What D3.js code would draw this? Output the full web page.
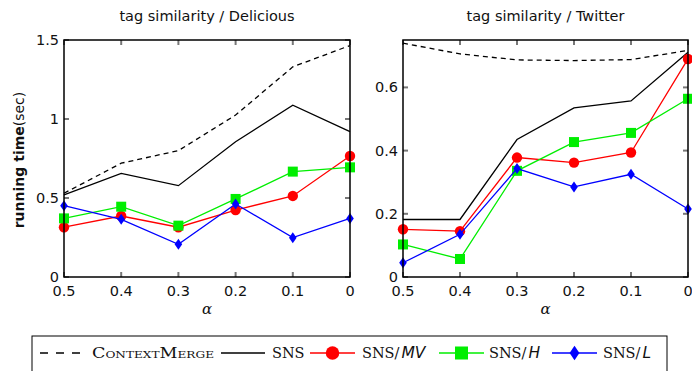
<!DOCTYPE html>
<html lang="en">
  <head>
    <meta charset="UTF-8" />
    <script src="https://d3js.org/d3.v7.min.js"></script>
    <title>running time vs alpha</title>
    <style>
      body { margin: 0; background: #fff; }
      text { font-family: "DejaVu Sans", sans-serif; fill: #111; }
      .serif { font-family: "DejaVu Serif", "Liberation Serif", serif; }
    </style>
  </head>
  <body>
    <svg id="chart" width="692" height="371"></svg>

    <script>
      // x values (alpha), shown from 0.5 down to 0
      const alphas = [0.5, 0.4, 0.3, 0.2, 0.1, 0];
      const alphaTicks = ["0.5", "0.4", "0.3", "0.2", "0.1", "0"];

      // Delicious
      const delContextMerge = [0.53, 0.72, 0.8, 1.025, 1.33, 1.465];
      const delSNS = [0.52, 0.656, 0.578, 0.856, 1.087, 0.92];
      const delMV = [0.315, 0.386, 0.315, 0.424, 0.513, 0.766];
      const delH = [0.371, 0.445, 0.325, 0.494, 0.667, 0.694];
      const delL = [0.451, 0.365, 0.207, 0.462, 0.249, 0.371];
      const delYTicks = [0, 0.5, 1, 1.5];

      // Twitter
      const twContextMerge = [0.74, 0.706, 0.687, 0.685, 0.688, 0.717];
      const twSNS = [0.182, 0.182, 0.435, 0.535, 0.557, 0.711];
      const twMV = [0.151, 0.145, 0.378, 0.362, 0.394, 0.69];
      const twH = [0.103, 0.057, 0.336, 0.427, 0.456, 0.564];
      const twL = [0.045, 0.135, 0.343, 0.285, 0.325, 0.215];
      const twYTicks = [0, 0.2, 0.4, 0.6];

      const seriesStyle = [
        { name: "ContextMerge", color: "#000", dash: "5,4", legendDash: "8,8", marker: null },
        { name: "SNS", color: "#000", dash: null, marker: null },
        { name: "MV", color: "#ff0000", dash: null, marker: "circle" },
        { name: "H", color: "#00ee00", dash: null, marker: "square" },
        { name: "L", color: "#0000ff", dash: null, marker: "diamond" },
      ];

      const panels = [
        {
          title: "tag similarity / Delicious",
          x0: 64, x1: 350, yMax: 1.5, yTicks: delYTicks, yFmt: d3.format(""),
          series: [delContextMerge, delSNS, delMV, delH, delL],
        },
        {
          title: "tag similarity / Twitter",
          x0: 403, x1: 688, yMax: 0.75, yTicks: twYTicks, yFmt: (d) => (d === 0 ? "0" : d3.format(".1f")(d)),
          series: [twContextMerge, twSNS, twMV, twH, twL],
        },
      ];

      const svg = d3.select("#chart");
      const plotTop = 40, plotBottom = 277;

      function drawMarker(g, type, x, y, color, s) {
        if (type === "circle") {
          g.append("circle").attr("cx", x).attr("cy", y).attr("r", s * 0.52).attr("fill", color);
        } else if (type === "square") {
          g.append("rect").attr("x", x - s / 2).attr("y", y - s / 2)
            .attr("width", s).attr("height", s).attr("fill", color);
        } else if (type === "diamond") {
          const w = s * 0.38, h = s * 0.55;
          g.append("path")
            .attr("d", `M${x},${y - h}L${x + w},${y}L${x},${y + h}L${x - w},${y}Z`)
            .attr("fill", color);
        }
      }

      panels.forEach((p) => {
        const x = d3.scalePoint().domain(alphas).range([p.x0, p.x1]);
        const y = d3.scaleLinear().domain([0, p.yMax]).range([plotBottom, plotTop]);
        const g = svg.append("g");

        // inner gray ticks on all four sides
        const tickLen = 5;
        const ticks = g.append("g").attr("stroke", "#777").attr("stroke-width", 2);
        alphas.forEach((a) => {
          ticks.append("line").attr("x1", x(a)).attr("x2", x(a)).attr("y1", plotBottom).attr("y2", plotBottom - tickLen);
          ticks.append("line").attr("x1", x(a)).attr("x2", x(a)).attr("y1", plotTop).attr("y2", plotTop + tickLen);
        });
        p.yTicks.forEach((t) => {
          ticks.append("line").attr("x1", p.x0).attr("x2", p.x0 + tickLen).attr("y1", y(t)).attr("y2", y(t));
          ticks.append("line").attr("x1", p.x1).attr("x2", p.x1 - tickLen).attr("y1", y(t)).attr("y2", y(t));
        });

        // tick labels
        alphas.forEach((a, i) => {
          g.append("text").attr("x", x(a)).attr("y", 296).attr("text-anchor", "middle")
            .attr("font-size", 14.5).text(alphaTicks[i]);
        });
        p.yTicks.forEach((t) => {
          g.append("text").attr("x", p.x0 - 5).attr("y", y(t) + 5).attr("text-anchor", "end")
            .attr("font-size", 14.5).text(p.yFmt(t));
        });

        // series
        p.series.forEach((vals, si) => {
          const st = seriesStyle[si];
          const line = d3.line().x((d, i) => x(alphas[i])).y((d) => y(d));
          g.append("path").datum(vals).attr("d", line).attr("fill", "none")
            .attr("stroke", st.color).attr("stroke-width", 1.3)
            .attr("stroke-dasharray", st.dash);
          if (st.marker) {
            vals.forEach((v, i) => drawMarker(g, st.marker, x(alphas[i]), y(v), st.color, 10));
          }
        });

        // frame
        g.append("rect").attr("x", p.x0).attr("y", plotTop)
          .attr("width", p.x1 - p.x0).attr("height", plotBottom - plotTop)
          .attr("fill", "none").attr("stroke", "#000").attr("stroke-width", 1.5);

        // title and x label
        const cx = (p.x0 + p.x1) / 2;
        g.append("text").attr("x", cx).attr("y", 21).attr("text-anchor", "middle")
          .attr("font-size", 14.5).text(p.title);
        g.append("text").attr("class", "serif").attr("x", cx).attr("y", 314)
          .attr("text-anchor", "middle").attr("font-size", 15).attr("font-style", "italic").text("α");
      });

      // y axis label
      const yl = svg.append("text").attr("transform", "translate(24,160) rotate(-90)")
        .attr("text-anchor", "middle").attr("font-size", 14);
      yl.append("tspan").attr("font-weight", "bold").text("running time");
      yl.append("tspan").text("(sec)");

      // legend
      const lg = svg.append("g");
      lg.append("rect").attr("x", 32).attr("y", 336).attr("width", 635).attr("height", 50)
        .attr("fill", "none").attr("stroke", "#000").attr("stroke-width", 1);
      const ly = 353;
      const legendItems = [
        { x0: 40, x1: 80, label: "ContextMerge", tx: 92, w: 122 },
        { x0: 221, x1: 265, label: "SNS", tx: 272 },
        { x0: 310, x1: 355, label: "MV", tx: 362 },
        { x0: 439, x1: 484, label: "H", tx: 489 },
        { x0: 552, x1: 597, label: "L", tx: 603 },
      ];
      legendItems.forEach((it, i) => {
        const st = seriesStyle[i];
        lg.append("line").attr("x1", it.x0).attr("x2", it.x1).attr("y1", ly).attr("y2", ly)
          .attr("stroke", st.color).attr("stroke-width", 1.3).attr("stroke-dasharray", st.legendDash || null);
        if (st.marker) drawMarker(lg, st.marker, (it.x0 + it.x1) / 2, ly, st.color, 13);
        const t = lg.append("text").attr("class", "serif").attr("x", it.tx).attr("y", ly + 5)
          .attr("font-size", 14.5);
        if (i === 0) {
          t.attr("font-variant", "small-caps").attr("textLength", it.w)
            .attr("lengthAdjust", "spacingAndGlyphs").text(it.label);
        } else if (i === 1) {
          t.text("SNS");
        } else {
          t.append("tspan").text("SNS/");
          t.append("tspan").attr("dx", 2).attr("font-family", "DejaVu Sans").attr("font-style", "italic")
            .attr("font-size", 15.5).text(it.label);
        }
      });
    </script>
  </body>
</html>
